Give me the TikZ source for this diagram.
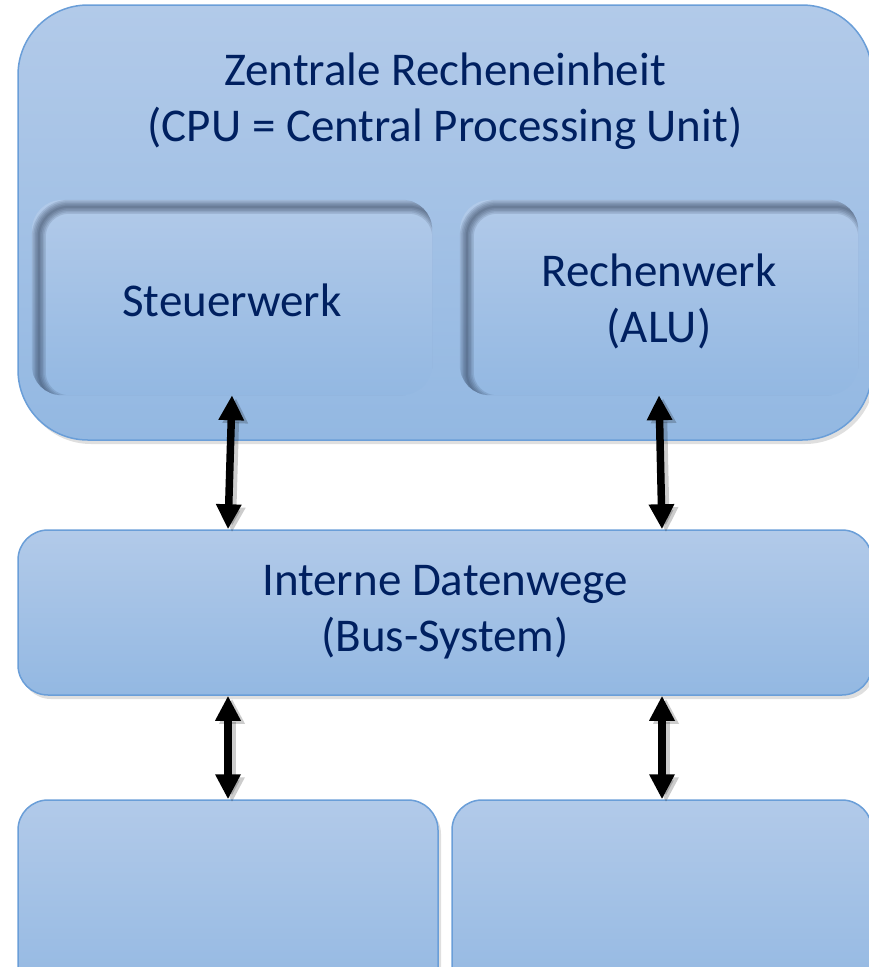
\documentclass[tikz,border=0pt]{standalone}
\usepackage{fontspec}
\setmainfont{Carlito}
\usepackage{tikz}
\usetikzlibrary{arrows.meta,positioning,shadows,calc}
\usepackage{xcolor}
\definecolor{boxtop}{RGB}{178,202,233}
\definecolor{boxbottom}{RGB}{147,184,226}
\definecolor{boxline}{RGB}{106,158,216}
\definecolor{textblue}{RGB}{0,32,96}
\definecolor{sunkshade}{RGB}{38,52,76}

\begin{document}
\begin{tikzpicture}[x=1pt, y=-1pt,
    every node/.style={font=\fontsize{47}{56}\selectfont, text=textblue, align=center},
    unitbox/.style={draw=boxline, line width=1.5pt, top color=boxtop, bottom color=boxbottom,
      inner sep=0pt, rounded corners=30pt,
      drop shadow={opacity=0.25, shadow xshift=3pt, shadow yshift=-4pt}},
    sunkbox/.style={top color=boxtop, bottom color=boxbottom, inner sep=0pt, rounded corners=30pt},
    buslink/.style={{Triangle[length=25pt,width=24pt]}-{Triangle[length=25pt,width=24pt]},
      line width=7.5pt, black},
    linkshadow/.style={buslink, black, opacity=0.2, transform canvas={xshift=4pt, yshift=-3pt}}]
        \useasboundingbox (0,0) rectangle (869,967);
        \clip (0,0) rectangle (869,967);

        % --- CPU ---
        \node[unitbox, rounded corners=70pt, minimum width=854pt, minimum height=435pt]
          (cpu) at (445,222.5) {};
        \node (cputitle) at (445,101) {Zentrale Recheneinheit\\(CPU = Central Processing Unit)};
        \node[sunkbox, minimum width=400pt, minimum height=195pt] (steuer) at (232,297.5) {};
        \node[sunkbox, minimum width=398pt, minimum height=195pt] (rechen) at (659,297.5) {};
        % inner shadow of the sunk boxes
        \foreach \n in {steuer,rechen} {
          \begin{scope}
            \clip[rounded corners=30pt] (\n.south west) rectangle (\n.north east);
            \foreach \w in {2,5,8,11,14}
              \draw[sunkshade, opacity=0.13, line width=\w pt, rounded corners=30pt]
                ([xshift=7pt,yshift=-7pt]\n.south west) rectangle ([xshift=7pt,yshift=-7pt]\n.north east);
          \end{scope}
        }
        \node at ([yshift=-3pt]steuer) {Steuerwerk};
        \node at ([yshift=-4pt]rechen) {Rechenwerk\\(ALU)};

        % --- Bus ---
        \node[unitbox, minimum width=854pt, minimum height=165pt] (bus) at (445,612.5)
          {Interne Datenwege\\(Bus-System)};

        % --- lower units ---
        \node[unitbox, minimum width=420pt, minimum height=200pt] (memL) at (228,900) {};
        \node[unitbox, minimum width=420pt, minimum height=200pt] (memR) at (662,900) {};

        % Arrows
        \foreach \from/\to in {{steuer.south}/{bus.north -| memL.north},
                               {rechen.south}/{bus.north -| memR.north},
                               {bus.south -| memL.north}/{memL.north},
                               {bus.south -| memR.north}/{memR.north}} {
          \draw[linkshadow] (\from) -- (\to);
          \draw[buslink] (\from) -- (\to);
        }
      \end{tikzpicture}
\end{document}
